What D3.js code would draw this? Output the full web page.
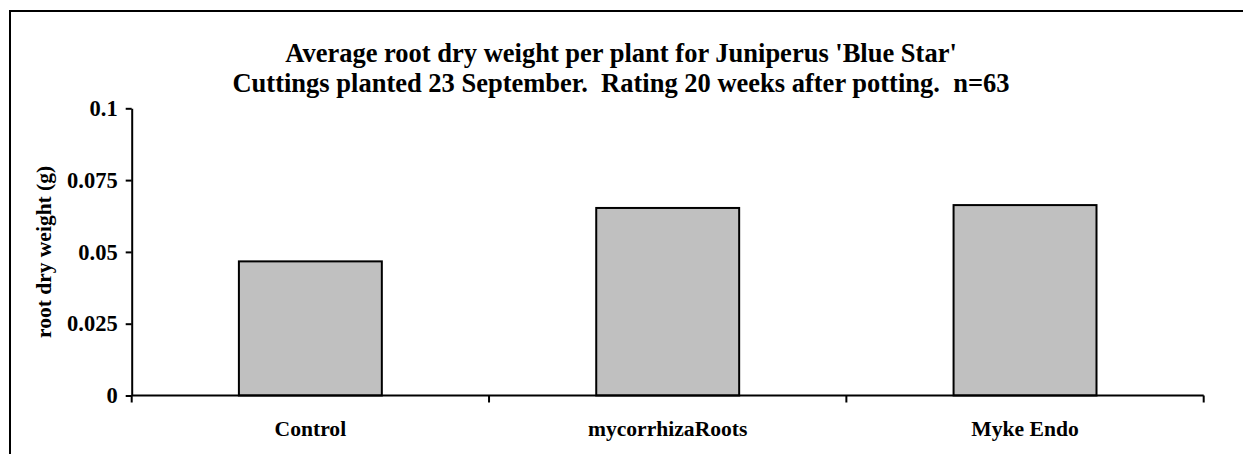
<!DOCTYPE html>
<html>
<head>
<meta charset="utf-8">
<script src="https://cdn.jsdelivr.net/npm/d3@7"></script>
<style>
  html, body { margin: 0; padding: 0; background: #fff; overflow: hidden; }
  svg { display: block; }
  text { font-family: "Liberation Serif", "Times New Roman", serif; font-weight: bold; fill: #000; white-space: pre; }
</style>
</head>
<body>
<svg id="chart" width="1243" height="454"></svg>
<script>
const categories = ["Control", "mycorrhizaRoots", "Myke Endo"];
const values = [0.0467, 0.0653, 0.0663];
const yTicks = [0, 0.025, 0.05, 0.075, 0.1];
const yTickLabels = ["0", "0.025", "0.05", "0.075", "0.1"];
const titleLines = ["Average root dry weight per plant for Juniperus 'Blue Star'",
                    "Cuttings planted 23 September.  Rating 20 weeks after potting.  n=63"];
const yLabel = "root dry weight (g)";

const svg = d3.select("#chart");

// outer chart border (left and top visible)
svg.append("rect")
  .attr("x", 10).attr("y", 11)
  .attr("width", 1400).attr("height", 600)
  .attr("fill", "none").attr("stroke", "#000").attr("stroke-width", 2);

const plot = { left: 131.7, right: 1203.7, top: 108.3, bottom: 395.5 };

const x = d3.scaleBand().domain(categories)
  .range([plot.left, plot.right]).paddingInner(0.6).paddingOuter(0.3);
const y = d3.scaleLinear().domain([0, 0.1]).range([plot.bottom, plot.top]);

// bars
svg.append("g").selectAll("rect").data(values).join("rect")
  .attr("x", (d, i) => x(categories[i]))
  .attr("y", d => y(d))
  .attr("width", x.bandwidth())
  .attr("height", d => y(0) - y(d))
  .attr("fill", "#c0c0c0").attr("stroke", "#000").attr("stroke-width", 2);

// y axis
const yAxis = d3.axisLeft(y).tickValues(yTicks)
  .tickFormat((d, i) => yTickLabels[i]).tickSizeInner(6).tickSizeOuter(0).tickPadding(8);
const gy = svg.append("g").attr("transform", `translate(${plot.left},0)`).call(yAxis);
gy.select(".domain").attr("stroke", "#000").attr("stroke-width", 2);
gy.selectAll(".tick line").attr("stroke", "#000").attr("stroke-width", 2);
gy.selectAll(".tick text").style("font-size", "22.5px").attr("fill", "#000");
gy.attr("font-family", null).attr("font-size", null);

// x axis: ticks at category boundaries
const step = x.step();
const boundaries = [plot.left].concat(categories.map(c => x(c) + x.bandwidth() + step * 0.3));
const gx = svg.append("g");
gx.append("line").attr("x1", plot.left).attr("x2", plot.right)
  .attr("y1", y(0)).attr("y2", y(0)).attr("stroke", "#000").attr("stroke-width", 2);
gx.selectAll("line.tk").data(boundaries).join("line").attr("class", "tk")
  .attr("x1", d => d).attr("x2", d => d)
  .attr("y1", y(0)).attr("y2", y(0) + 7).attr("stroke", "#000").attr("stroke-width", 2);
gx.selectAll("text").data(categories).join("text")
  .attr("x", d => x(d) + x.bandwidth() / 2).attr("y", 436)
  .attr("text-anchor", "middle").style("font-size", "21.6px").text(d => d);

// y label
svg.append("text")
  .attr("transform", `translate(51,${(plot.top + plot.bottom) / 2}) rotate(-90)`)
  .attr("text-anchor", "middle").style("font-size", "21.5px").text(yLabel);

// title
svg.append("g").selectAll("text").data(titleLines).join("text")
  .attr("x", 621).attr("y", (d, i) => 62 + i * 30)
  .attr("text-anchor", "middle").style("font-size", "26.5px").text(d => d);
</script>
</body>
</html>
